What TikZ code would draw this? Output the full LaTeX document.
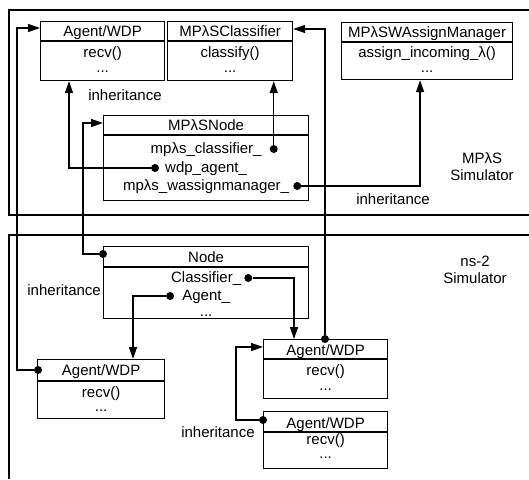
\documentclass[tikz,border=0pt]{standalone}
\usepackage{fontspec}
\setmainfont{Liberation Sans}
\usetikzlibrary{arrows.meta,calc}

\begin{document}
\begin{tikzpicture}[
  x=1pt, y=-1pt,
  txt/.style={font=\fontsize{15}{17}\selectfont, inner sep=0pt, text height=11pt, text depth=3pt},
  lbl/.style={font=\fontsize{15}{17}\selectfont, inner sep=0pt, align=center},
  classbox/.style={draw, line width=1.2pt, inner sep=0pt, anchor=north west},
  divider/.style={line width=1.2pt},
  dot/.style={circle, fill, inner sep=0pt, minimum size=8pt},
  inh/.style={line width=1.4pt, -{Triangle[length=12pt,width=8pt]}},
  simframe/.style={line width=1.6pt}
]
  \useasboundingbox (0,0) rectangle (529,479);

  % Simulator frames
  \draw[simframe] (529,10) -- (9,10) -- (9,215) -- (529,215);
  \draw[simframe] (529,235) -- (9,235) -- (9,479);
  \node[lbl] (simMp) at (482,167) {MPλS\\Simulator};
  \node[lbl] (simNs) at (475,270) {ns-2\\Simulator};

  % MPλS classes
  \node[classbox, minimum width=124pt, minimum height=59pt] (awTop) at (40,21) {};
  \draw[divider] ($(awTop.north west)+(0,20)$) -- ($(awTop.north east)+(0,20)$);
  \node[txt] (awTopT) at ($(awTop.north)+(0,11)$) {Agent/WDP};
  \node[txt] (awTopA) at ($(awTop.north)+(0,32)$) {recv()};
  \node[txt] (awTopB) at ($(awTop.north)+(0,47)$) {...};

  \node[classbox, minimum width=125pt, minimum height=59pt] (cls) at (167,21) {};
  \draw[divider] ($(cls.north west)+(0,20)$) -- ($(cls.north east)+(0,20)$);
  \node[txt] (clsT) at ($(cls.north)+(0,11)$) {MPλSClassifier};
  \node[txt] (clsA) at ($(cls.north)+(0,32)$) {classify()};
  \node[txt] (clsB) at ($(cls.north)+(0,47)$) {...};

  \node[classbox, minimum width=171pt, minimum height=57pt] (wam) at (341,22) {};
  \draw[divider] ($(wam.north west)+(0,20)$) -- ($(wam.north east)+(0,20)$);
  \node[txt] (wamT) at ($(wam.north)+(0,11)$) {MPλSWAssignManager};
  \node[txt] (wamA) at ($(wam.north)+(0,31.5)$) {assign\_incoming\_λ()};
  \node[txt] (wamB) at ($(wam.north)+(0,46)$) {...};

  \node[classbox, minimum width=205pt, minimum height=85pt] (mpNode) at (103,115) {};
  \draw[divider] ($(mpNode.north west)+(0,20)$) -- ($(mpNode.north east)+(0,20)$);
  \node[txt] (mpNodeT) at ($(mpNode.north)+(0,11)$) {MPλSNode};
  \node[txt] (mpCls) at ($(mpNode.north)+(0,34)$) {mpλs\_classifier\_};
  \node[txt] (mpAgt) at ($(mpNode.north)+(0,53)$) {wdp\_agent\_};
  \node[txt] (mpWam) at ($(mpNode.north)+(0,71)$) {mpλs\_wassignmanager\_};

  % ns-2 classes
  \node[classbox, minimum width=205pt, minimum height=72pt] (nsNode) at (103,246) {};
  \draw[divider] ($(nsNode.north west)+(0,21)$) -- ($(nsNode.north east)+(0,21)$);
  \node[txt] (nsNodeT) at ($(nsNode.north)+(0,12)$) {Node};
  \node[txt] (nsCls) at ($(nsNode.north)+(0,32)$) {Classifier\_};
  \node[txt] (nsAgt) at ($(nsNode.north)+(0,50)$) {Agent\_};
  \node[txt] (nsNodeB) at ($(nsNode.north)+(0,66)$) {...};

  \node[classbox, minimum width=127pt, minimum height=59pt] (awLeft) at (37,359) {};
  \draw[divider] ($(awLeft.north west)+(0,22)$) -- ($(awLeft.north east)+(0,22)$);
  \node[txt] (awLeftT) at ($(awLeft.north)+(0,12)$) {Agent/WDP};
  \node[txt] (awLeftA) at ($(awLeft.north)+(0,34)$) {recv()};
  \node[txt] (awLeftB) at ($(awLeft.north)+(0,48)$) {...};

  \node[classbox, minimum width=124pt, minimum height=59pt] (awMid) at (263,339) {};
  \draw[divider] ($(awMid.north west)+(0,20)$) -- ($(awMid.north east)+(0,20)$);
  \node[txt] (awMidT) at ($(awMid.north)+(0,12)$) {Agent/WDP};
  \node[txt] (awMidA) at ($(awMid.north)+(0,32.5)$) {recv()};
  \node[txt] (awMidB) at ($(awMid.north)+(0,47)$) {...};

  \node[classbox, minimum width=124pt, minimum height=57pt] (awLow) at (263,411) {};
  \draw[divider] ($(awLow.north west)+(0,21)$) -- ($(awLow.north east)+(0,21)$);
  \node[txt] (awLowT) at ($(awLow.north)+(0,13)$) {Agent/WDP};
  \node[txt] (awLowA) at ($(awLow.north)+(0,29)$) {recv()};
  \node[txt] (awLowB) at ($(awLow.north)+(0,43)$) {...};

  % member dots
  \node[dot] (dCls) at ($(mpCls.east)+(12,0)$) {};
  \node[dot] (dAgt) at ($(mpAgt.west)+(-10,0)$) {};
  \node[dot] (dWam) at ($(mpWam.east)+(8,0)$) {};
  \node[dot] (dNsCls) at ($(nsCls.east)+(7,0)$) {};
  \node[dot] (dNsAgt) at ($(nsAgt.west)+(-12,0)$) {};
  \node[dot] (dNsTop) at ($(nsNode.north west)+(0,8)$) {};
  \node[dot] (dLeft) at ($(awLeft.north west)+(1,11)$) {};
  \node[dot] (dMid) at ($(awMid.north west)+(62,0)$) {};
  \node[dot] (dLow) at ($(awLow.north west)+(0,9)$) {};

  % links
  \draw[inh] (dAgt) -| ($(awTop.south west)+(29,0)$);
  \draw[inh] (dCls) -- (dCls |- cls.south);
  \draw[inh] (dWam) -| ($(wam.south)+(-7,0)$);
  \draw[inh] (dNsCls) -| ($(awMid.north west)+(31,0)$);
  \draw[inh] (dNsAgt) -| ($(awLeft.north west)+(96,0)$);
  \draw[inh] (dLeft) -- ++(-21,0) |- ($(awTop.north west)+(0,7)$);
  \draw[inh] (dNsTop) -- ++(-20,0) |- ($(mpNode.north west)+(0,8)$);
  \draw[inh] (dMid) |- ($(cls.north east)+(0,8)$);
  \draw[inh] (dLow) -- ++(-27,0) |- ($(awMid.north west)+(0,8)$);

  % inheritance labels
  \node[txt] (lblA) at (125,96) {inheritance};
  \node[txt] (lblB) at (393,200) {inheritance};
  \node[txt, anchor=east] (lblC) at (101,291) {inheritance};
  \node[txt] (lblD) at (218,433) {inheritance};
\end{tikzpicture}
\end{document}
